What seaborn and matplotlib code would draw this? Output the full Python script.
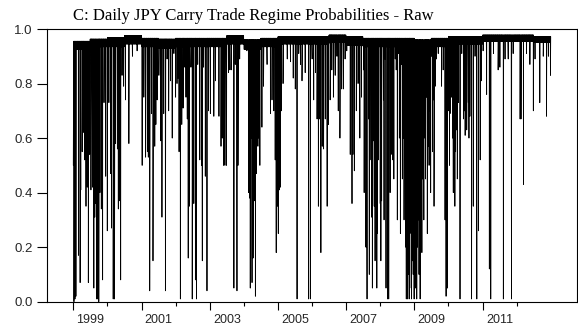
import numpy as np
import pandas as pd
import matplotlib
matplotlib.use("Agg")
import matplotlib.pyplot as plt
import seaborn as sns

# Upper and lower edge of the noisy high-probability band, per half year (1999H1 ... 2012H2)
band_start = 1999
band_top = [0.955, 0.963, 0.968, 0.976, 0.966, 0.963, 0.966, 0.966, 0.966, 0.975,
            0.960, 0.966, 0.972, 0.972, 0.972, 0.978, 0.972, 0.966, 0.966, 0.966,
            0.960, 0.966, 0.972, 0.972, 0.978, 0.978, 0.978, 0.972]
band_floor = [0.925, 0.935, 0.935, 0.945, 0.935, 0.930, 0.935, 0.935, 0.935, 0.945,
              0.925, 0.935, 0.945, 0.945, 0.945, 0.950, 0.940, 0.935, 0.935, 0.935,
              0.930, 0.935, 0.945, 0.945, 0.955, 0.955, 0.955, 0.950]

# Days on which the regime probability collapsed (fractional year, probability)
dip_time = [
    1999.00, 1999.02, 1999.05, 1999.08, 1999.15, 1999.20, 1999.22, 1999.26, 1999.29, 1999.33,
    1999.37, 1999.41, 1999.44, 1999.48, 1999.52, 1999.56, 1999.60, 1999.63, 1999.66, 1999.68,
    1999.71, 1999.75, 1999.78, 1999.82, 1999.86, 1999.90, 1999.95, 2000.00, 2000.04, 2000.09,
    2000.12, 2000.17, 2000.21, 2000.24, 2000.29, 2000.32, 2000.36, 2000.39, 2000.43, 2000.48,
    2000.53, 2000.63, 2000.73, 2000.87, 2001.02, 2001.07, 2001.12, 2001.17, 2001.20, 2001.24,
    2001.29, 2001.34, 2001.39, 2001.46, 2001.51, 2001.56, 2001.60, 2001.65, 2001.70, 2001.75,
    2001.85, 2001.95, 2002.04, 2002.07, 2002.14, 2002.22, 2002.27, 2002.34, 2002.37, 2002.40,
    2002.45, 2002.49, 2002.53, 2002.58, 2002.61, 2002.65, 2002.71, 2002.76, 2002.78, 2002.82,
    2002.87, 2002.92, 2002.97, 2003.02, 2003.12, 2003.17, 2003.27, 2003.33, 2003.37, 2003.41,
    2003.45, 2003.49, 2003.55, 2003.59, 2003.63, 2003.71, 2003.75, 2003.80, 2003.83, 2003.88,
    2004.09, 2004.14, 2004.17, 2004.19, 2004.22, 2004.24, 2004.27, 2004.31, 2004.34, 2004.37,
    2004.41, 2004.44, 2004.47, 2004.53, 2004.58, 2004.68, 2004.78, 2004.83, 2004.88, 2004.92,
    2004.95, 2004.98, 2005.01, 2005.04, 2005.07, 2005.10, 2005.27, 2005.37, 2005.51, 2005.56,
    2005.61, 2005.66, 2005.71, 2005.80, 2005.90, 2005.95, 2006.00, 2006.05, 2006.10, 2006.15,
    2006.19, 2006.22, 2006.26, 2006.30, 2006.34, 2006.39, 2006.44, 2006.48, 2006.53, 2006.58,
    2006.63, 2006.68, 2006.73, 2006.87, 2006.92, 2006.97, 2007.02, 2007.12, 2007.17, 2007.20,
    2007.24, 2007.51, 2007.61, 2007.66, 2007.70, 2007.75, 2007.80, 2007.85, 2007.90, 2007.95,
    2008.00, 2008.04, 2008.09, 2008.14, 2008.17, 2008.21, 2008.25, 2008.29, 2008.31, 2008.34,
    2008.37, 2008.44, 2008.47, 2008.53, 2008.63, 2008.68, 2008.70, 2008.73, 2008.75, 2008.76,
    2008.78, 2008.80, 2008.82, 2008.83, 2008.85, 2008.87, 2008.89, 2008.91, 2008.92, 2008.94,
    2008.95, 2008.97, 2008.99, 2009.00, 2009.02, 2009.04, 2009.05, 2009.07, 2009.09, 2009.10,
    2009.12, 2009.14, 2009.17, 2009.19, 2009.22, 2009.24, 2009.26, 2009.31, 2009.36, 2009.41,
    2009.46, 2009.51, 2009.56, 2009.61, 2009.65, 2009.70, 2009.80, 2009.85, 2009.90, 2009.93,
    2009.97, 2010.01, 2010.05, 2010.09, 2010.14, 2010.19, 2010.24, 2010.29, 2010.34, 2010.39,
    2010.44, 2010.49, 2010.54, 2010.58, 2010.63, 2010.68, 2010.73, 2010.78, 2010.83, 2010.88,
    2010.93, 2010.97, 2011.02, 2011.12, 2011.20, 2011.24, 2011.32, 2011.46, 2011.51, 2011.61,
    2011.66, 2011.75, 2011.85, 2011.90, 2012.10, 2012.13, 2012.20, 2012.29, 2012.39, 2012.49,
    2012.54, 2012.68, 2012.78, 2012.88, 2012.93, 2012.99,
]
dip_value = [
    0.50, 0.00, 0.01, 0.02, 0.17, 0.07, 0.41, 0.55, 0.62, 0.52,
    0.35, 0.42, 0.07, 0.54, 0.41, 0.42, 0.05, 0.31, 0.36, 0.01,
    0.01, 0.00, 0.40, 0.34, 0.08, 0.73, 0.46, 0.26, 0.73, 0.47,
    0.27, 0.01, 0.01, 0.58, 0.56, 0.34, 0.37, 0.08, 0.83, 0.79,
    0.74, 0.58, 0.90, 0.92, 0.50, 0.75, 0.53, 0.55, 0.53, 0.04,
    0.69, 0.15, 0.57, 0.74, 0.83, 0.59, 0.31, 0.69, 0.04, 0.89,
    0.81, 0.91, 0.80, 0.82, 0.01, 0.71, 0.86, 0.67, 0.16, 0.35,
    0.86, 0.01, 0.36, 0.08, 0.01, 0.87, 0.52, 0.50, 0.15, 0.86,
    0.46, 0.04, 0.70, 0.69, 0.68, 0.81, 0.68, 0.57, 0.60, 0.50,
    0.50, 0.50, 0.84, 0.85, 0.85, 0.05, 0.87, 0.04, 0.50, 0.89,
    0.92, 0.40, 0.38, 0.05, 0.60, 0.07, 0.16, 0.37, 0.02, 0.47,
    0.57, 0.60, 0.50, 0.64, 0.79, 0.87, 0.69, 0.74, 0.70, 0.52,
    0.18, 0.35, 0.25, 0.41, 0.42, 0.70, 0.89, 0.88, 0.78, 0.01,
    0.91, 0.87, 0.81, 0.84, 0.01, 0.01, 0.89, 0.74, 0.84, 0.67,
    0.35, 0.67, 0.18, 0.57, 0.56, 0.67, 0.35, 0.65, 0.74, 0.85,
    0.75, 0.83, 0.90, 0.78, 0.78, 0.89, 0.92, 0.54, 0.36, 0.54,
    0.48, 0.85, 0.01, 0.67, 0.52, 0.31, 0.59, 0.15, 0.05, 0.52,
    0.36, 0.37, 0.74, 0.89, 0.05, 0.01, 0.01, 0.40, 0.91, 0.54,
    0.52, 0.89, 0.85, 0.91, 0.87, 0.60, 0.30, 0.70, 0.20, 0.01,
    0.35, 0.01, 0.10, 0.20, 0.01, 0.25, 0.30, 0.05, 0.01, 0.15,
    0.40, 0.10, 0.01, 0.20, 0.83, 0.05, 0.30, 0.01, 0.20, 0.50,
    0.30, 0.10, 0.01, 0.35, 0.18, 0.45, 0.54, 0.60, 0.75, 0.57,
    0.70, 0.90, 0.74, 0.79, 0.89, 0.91, 0.79, 0.85, 0.30, 0.02,
    0.05, 0.70, 0.69, 0.75, 0.40, 0.35, 0.63, 0.73, 0.01, 0.91,
    0.67, 0.61, 0.63, 0.73, 0.68, 0.01, 0.35, 0.90, 0.01, 0.26,
    0.52, 0.81, 0.92, 0.76, 0.12, 0.01, 0.91, 0.85, 0.86, 0.01,
    0.89, 0.89, 0.01, 0.91, 0.67, 0.67, 0.43, 0.91, 0.87, 0.70,
    0.89, 0.73, 0.90, 0.68, 0.90, 0.83,
]

# Further, shallower dips filling out the turbulent stretches
extra_dip_time = [
    2001.42, 2001.80, 2001.90, 2002.00, 2002.10, 2002.18, 2002.30,
    2005.15, 2005.45, 2006.77, 2006.82,
    2007.30, 2007.35, 2007.40, 2007.45, 2007.53, 2007.58, 2007.68,
    2007.77, 2007.82, 2007.92, 2008.02, 2008.11,
    2008.40, 2008.50, 2008.56, 2008.59, 2008.65,
    2009.28, 2009.33, 2009.38, 2009.43, 2009.48, 2009.53, 2009.58,
    2010.03, 2010.12, 2010.21, 2010.26, 2010.47, 2010.60,
]
extra_dip_value = [
    0.65, 0.70, 0.60, 0.75, 0.55, 0.65, 0.75,
    0.80, 0.82, 0.70, 0.60,
    0.70, 0.80, 0.60, 0.75, 0.40, 0.20, 0.10,
    0.05, 0.35, 0.25, 0.15, 0.30,
    0.45, 0.30, 0.60, 0.25, 0.45,
    0.30, 0.45, 0.25, 0.50, 0.40, 0.55, 0.35,
    0.50, 0.60, 0.55, 0.45, 0.70, 0.60,
]

# Daily (business-day) series on a fractional-year time axis
dates = pd.bdate_range("1999-01-01", "2012-12-31")
t = (dates.year + (dates.dayofyear - 1) / 365.25).to_numpy()
half = (dates.year.to_numpy() - band_start) * 2 + (dates.month.to_numpy() > 6)
prob = np.where(np.arange(len(dates)) % 3 == 1,
                np.asarray(band_floor)[half],
                np.asarray(band_top)[half])
for when, value in zip(dip_time + extra_dip_time, dip_value + extra_dip_value):
    prob[np.argmin(np.abs(t - when))] = value

df = pd.DataFrame({"time": t, "prob": prob})

sns.set_theme(style="white")
plt.rcParams["font.family"] = ["Liberation Sans", "DejaVu Sans"]

fig = plt.figure(figsize=(5.78, 3.28), dpi=100)
ax = fig.add_axes([46.7 / 578, 1 - 301.7 / 328, (577 - 46.7) / 578, (301.7 - 29) / 328])

sns.lineplot(data=df, x="time", y="prob", ax=ax, color="black", linewidth=0.6,
             estimator=None, sort=False)

ax.set_xlim(1998.22, 2013.77)
ax.set_ylim(0.0, 1.0)
ax.set_xlabel("")
ax.set_ylabel("")

for side in ["left", "right", "top", "bottom"]:
    ax.spines[side].set_visible(True)
    ax.spines[side].set_color("black")
    ax.spines[side].set_linewidth(0.8)

# y axis
ax.set_yticks(np.arange(0.0, 1.01, 0.2))
ax.set_yticklabels([f"{v:.1f}" for v in np.arange(0.0, 1.01, 0.2)])
ax.tick_params(axis="y", which="major", direction="out", length=7, width=0.8,
               color="black", labelsize=9.5, pad=3, left=True, right=False)

# x axis: long ticks at odd years, short ticks at even years, labels mid-year
odd_years = list(range(1999, 2012, 2))
even_years = list(range(2000, 2013, 2))
ax.set_xticks(odd_years)
ax.set_xticklabels([])
ax.set_xticks([y + 0.5 for y in odd_years], minor=True)
ax.set_xticklabels([str(y) for y in odd_years], minor=True)
ax.tick_params(axis="x", which="major", direction="out", length=6, width=0.8,
               color="black", bottom=True)
ax.tick_params(axis="x", which="minor", direction="out", length=0, labelsize=9,
               pad=9, bottom=True)

sec = ax.secondary_xaxis("bottom")
sec.set_xticks(even_years)
sec.set_xticklabels([])
sec.tick_params(axis="x", direction="out", length=3, width=0.8, color="black")
sec.spines["bottom"].set_visible(False)

fig.text(73 / 578, 1 - 19.5 / 328, "C: Daily JPY Carry Trade Regime Probabilities - Raw",
         family=["Liberation Serif", "DejaVu Serif"], fontsize=12, ha="left",
         va="baseline", color="black")

fig.savefig("out.png", dpi=100, facecolor="white")
